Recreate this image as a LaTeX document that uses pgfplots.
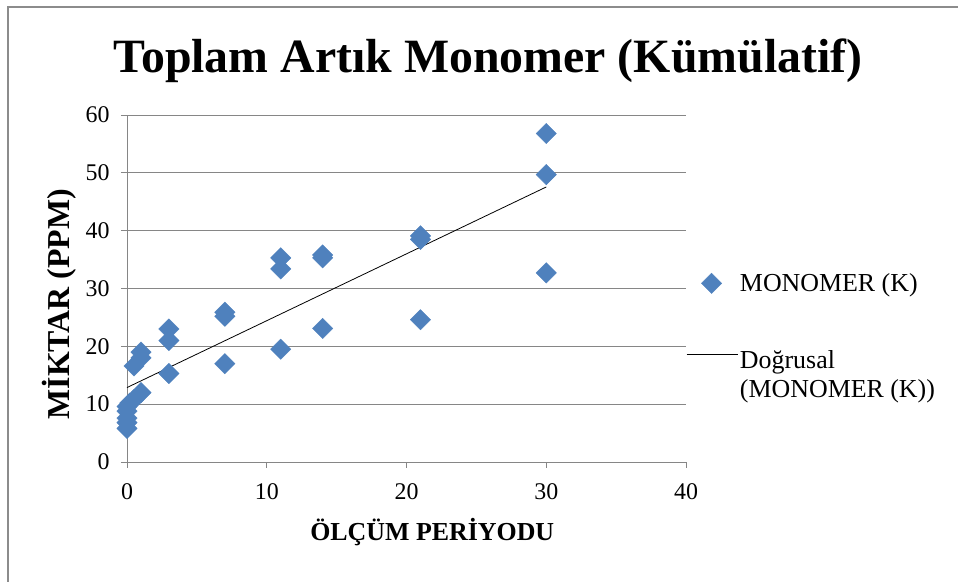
\documentclass[border=0pt]{standalone}
\usepackage{fontspec}
\setmainfont{Liberation Serif}
\usepackage{pgfplots}
\pgfplotsset{compat=1.18}
\usepackage{pgfplotstable}
\definecolor{mblue}{HTML}{4F81BD}
\definecolor{gridgray}{HTML}{868686}
\definecolor{framegray}{HTML}{8C8C8C}

\pgfplotsset{
  linelegend/.style={legend image code/.code={\draw[##1] (0bp,20bp) -- (51bp,20bp);}},
  marklegend/.style={legend image code/.code={\draw[##1] plot coordinates {(25bp,0bp)};}},
}

\pgfplotstableread{
x y
0 5.8
0 6.8
0 7.6
0 8.8
0 9.6
0.2 10.2
0.5 10.8
0.5 16.6
1 12.0
1 18.0
1 19.0
3 15.3
3 21.0
3 23.0
7 17.0
7 25.2
7 25.9
11 19.5
11 33.4
11 35.3
14 23.1
14 35.3
14 35.8
21 24.6
21 38.5
21 39.1
30 32.7
30 49.7
30 56.8
}\datatable

\begin{document}
\begin{tikzpicture}
\path[use as bounding box] (0,0) rectangle (958bp,582bp);
\draw[framegray, line width=2bp] (8bp,0) -- (8bp,575bp) -- (958bp,575bp);
\node[font=\fontsize{48}{56}\selectfont\bfseries, anchor=base] at (488bp,509bp) {Toplam Artık Monomer (Kümülatif)};
\begin{axis}[
  at={(127bp,120bp)}, anchor=south west,
  scale only axis, width=559bp, height=347bp,
  xmin=0, xmax=40, ymin=0, ymax=60,
  xtick={0,10,20,30,40}, ytick={0,10,...,60},
  axis x line=bottom, axis y line=left,
  axis line style={gridgray, -},
  ymajorgrids, grid style={gridgray, line width=0.8bp},
  tick style={gridgray, line width=0.8bp},
  tick align=outside, major tick length=6bp,
  /pgf/number format/assume math mode=true,
  ticklabel style={font=\fontsize{24}{28}\selectfont},
  xticklabel style={yshift=-12bp},
  yticklabel style={xshift=-8bp},
  xlabel={ÖLÇÜM PERİYODU},
  ylabel={MİKTAR (PPM)},
  xlabel style={font=\fontsize{26}{30}\selectfont\bfseries,
    at={(axis description cs:0.546,-0.202)}, anchor=center},
  ylabel style={font=\fontsize{32}{36}\selectfont\bfseries,
    at={(axis description cs:-0.122,0.455)}, anchor=center},
  clip=false,
  legend style={draw=none, fill=none, at={(1,0.555)}, anchor=north west,
    font=\fontsize{26}{30}\selectfont, cells={align=left, anchor=west},
    row sep=53bp, inner xsep=0pt},
]
\addplot[only marks, mark=square*, mark size=7.2bp,
  mark options={rotate=45, fill=mblue, draw=mblue}, marklegend]
  table[x=x, y=y] {\datatable};
\addlegendentry{MONOMER (K)}
\addplot[black, line width=0.8bp, no marks, linelegend]
  table[x=x, y={create col/linear regression={y=y}}] {\datatable};
\addlegendentry{Doğrusal\\(MONOMER (K))}
\end{axis}
\end{tikzpicture}
\end{document}
